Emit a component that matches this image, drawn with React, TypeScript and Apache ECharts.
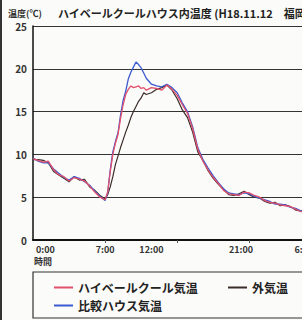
import React, { useEffect, useRef } from "react";
import * as echarts from "echarts";

const hours = [
  0, 0.5, 1, 1.5, 2, 2.5, 3, 3.5, 4, 4.5, 5, 5.5, 6, 6.5, 7, 7.25, 7.5, 7.75, 8, 8.25, 8.5, 8.75, 9, 9.25,
  9.5, 9.75, 10, 10.25, 10.5, 10.75, 11, 11.5, 12, 12.5, 13, 13.5, 14, 14.5, 15, 15.5, 16, 16.5, 17, 17.5,
  18, 18.5, 19, 19.5, 20, 20.5, 21, 21.5, 22, 22.5, 23, 23.5, 24, 24.5, 25, 25.5, 26, 26.5, 27,
];
const haiveruTemp = [
  9.5, 9.3, 9.1, 9.2, 8.2, 7.6, 7.4, 6.9, 7.3, 7.1, 6.9, 6.3, 5.6, 5.0, 4.7, 5.6, 8.0, 10.0, 11.3, 12.3,
  14.2, 15.8, 17.0, 17.6, 18.0, 17.8, 17.9, 18.0, 17.7, 17.8, 17.5, 17.8, 17.7, 17.5, 18.1, 17.6, 16.9,
  15.8, 14.8, 13.0, 10.6, 9.2, 8.2, 7.3, 6.6, 5.8, 5.4, 5.3, 5.2, 5.6, 5.5, 5.2, 5.0, 4.6, 4.4, 4.3, 4.1,
  4.0, 3.9, 3.6, 3.3, 3.5, 3.2,
];
const hikakuTemp = [
  9.6, 9.2, 9.0, 9.0, 8.3, 7.8, 7.3, 7.0, 7.4, 7.2, 6.8, 6.4, 5.7, 5.1, 4.6, 5.5, 8.2, 10.3, 11.5, 12.5,
  14.6, 16.3, 17.4, 18.8, 19.6, 20.2, 20.8, 20.5, 20.1, 19.5, 18.9, 18.2, 18.0, 17.9, 18.2, 17.8, 17.2,
  16.0, 15.0, 13.2, 10.8, 9.4, 8.4, 7.5, 6.7, 6.0, 5.5, 5.4, 5.3, 5.5, 5.4, 5.1, 4.9, 4.7, 4.5, 4.2, 4.2,
  4.1, 3.8, 3.7, 3.4, 3.4, 3.3,
];
const gaikiTemp = [
  9.4, 9.4, 9.3, 9.0, 8.0, 7.6, 7.2, 6.8, 7.4, 7.0, 7.1, 6.2, 5.8, 5.2, 4.8, 5.3, 6.2, 7.4, 8.8, 9.8,
  10.8, 11.7, 12.6, 13.4, 14.3, 15.0, 15.6, 16.2, 16.6, 17.2, 17.0, 17.2, 17.6, 17.8, 18.1, 17.5, 16.5,
  15.2, 14.3, 12.6, 10.3, 9.3, 8.1, 7.2, 6.5, 5.9, 5.3, 5.2, 5.4, 5.7, 5.3, 5.0, 4.9, 4.5, 4.3, 4.4, 4.0,
  4.1, 3.9, 3.5, 3.4, 3.3, 3.1,
];

const seriesNames = ["ハイベールクール気温", "外気温", "比較ハウス気温"];
const xLabelHours = [1.2, 7, 11.5, 20.2, 26.3];
const xLabelTexts = ["0:00", "7:00", "12:00", "21:00", "6:00"];
const xTickHours = [7, 14, 21, 28];
const yTitle = "温度(℃)";
const mainTitle = "ハイベールクールハウス内温度 (H18.11.12　福岡県";
const xTitle = "時間";

const FONT = '"Noto Sans CJK JP", "Liberation Sans", sans-serif';

export default function App() {
  const ref = useRef<HTMLDivElement>(null);
  useEffect(() => {
    if (!ref.current) return;
    const chart = echarts.init(ref.current, undefined, { renderer: "svg" });
    const toPairs = (arr: number[]) => hours.map((h, i) => [h, arr[i]]);
    const legendText = {
      fontSize: 12,
      lineHeight: 13,
      color: "#222",
      fontFamily: FONT,
      fontWeight: "bold",
    };
    chart.setOption({
      animation: false,
      backgroundColor: "#fbfbf9",
      grid: { left: 33, top: 26, right: 3, bottom: 80 },
      xAxis: {
        type: "value",
        min: 0,
        max: 30,
        axisLine: { show: true, lineStyle: { color: "#111", width: 2 } },
        axisTick: { show: true, customValues: xTickHours, length: 3, inside: false, lineStyle: { color: "#555" } },
        splitLine: { show: false },
        axisLabel: {
          customValues: xLabelHours,
          formatter: (v: number) => {
            const i = xLabelHours.findIndex((h) => Math.abs(h - v) < 1e-6);
            return i >= 0 ? xLabelTexts[i] : "";
          },
          fontSize: 9,
          fontWeight: "bold",
          color: "#333",
          fontFamily: FONT,
          margin: 5,
        },
      },
      yAxis: {
        type: "value",
        min: 0,
        max: 25,
        interval: 5,
        axisLine: { show: true, lineStyle: { color: "#111", width: 1.5 } },
        axisTick: { show: false },
        splitLine: { show: true, lineStyle: { color: "#333", width: 1 } },
        axisLabel: { fontSize: 10, fontWeight: "bold", color: "#333", fontFamily: FONT, margin: 6 },
      },
      legend: [
        {
          data: [seriesNames[0], seriesNames[1]],
          left: 54,
          top: 281,
          padding: 0,
          itemWidth: 19,
          itemHeight: 2,
          icon: "rect",
          itemGap: 30,
          textStyle: legendText,
        },
        {
          data: [seriesNames[2]],
          left: 54,
          top: 299,
          padding: 0,
          itemWidth: 19,
          itemHeight: 2,
          icon: "rect",
          textStyle: legendText,
        },
      ],
      graphic: [
        { type: "rect", shape: { x: 0, y: 0, width: 2, height: 320 }, style: { fill: "#333" } },
        {
          type: "rect",
          shape: { x: 33, y: 272, width: 330, height: 46 },
          style: { fill: "none", stroke: "#333", lineWidth: 1.2 },
        },
        {
          type: "text",
          x: 8,
          y: 13,
          style: { text: yTitle, fontSize: 9, fontWeight: "bold", fill: "#333", fontFamily: FONT, verticalAlign: "middle" },
        },
        {
          type: "text",
          x: 58,
          y: 13,
          style: { text: mainTitle, fontSize: 11, fontWeight: "bold", fill: "#222", fontFamily: FONT, verticalAlign: "middle" },
        },
        {
          type: "text",
          x: 34,
          y: 261,
          style: { text: xTitle, fontSize: 9, fontWeight: "bold", fill: "#333", fontFamily: FONT, verticalAlign: "middle" },
        },
      ],
      series: [
        {
          name: seriesNames[1],
          type: "line",
          data: toPairs(gaikiTemp),
          showSymbol: false,
          color: "#3a2c28",
          lineStyle: { width: 1.2 },
        },
        {
          name: seriesNames[2],
          type: "line",
          data: toPairs(hikakuTemp),
          showSymbol: false,
          color: "#3c5ad0",
          lineStyle: { width: 1.3 },
        },
        {
          name: seriesNames[0],
          type: "line",
          data: toPairs(haiveruTemp),
          showSymbol: false,
          color: "#e2506c",
          lineStyle: { width: 1.3 },
        },
      ],
    });
    return () => chart.dispose();
  }, []);
  return (
    <div style={{ position: "absolute", left: 0, top: 0, width: 302, height: 320, overflow: "hidden" }}>
      <div ref={ref} style={{ width: 345, height: 320 }} />
    </div>
  );
}
